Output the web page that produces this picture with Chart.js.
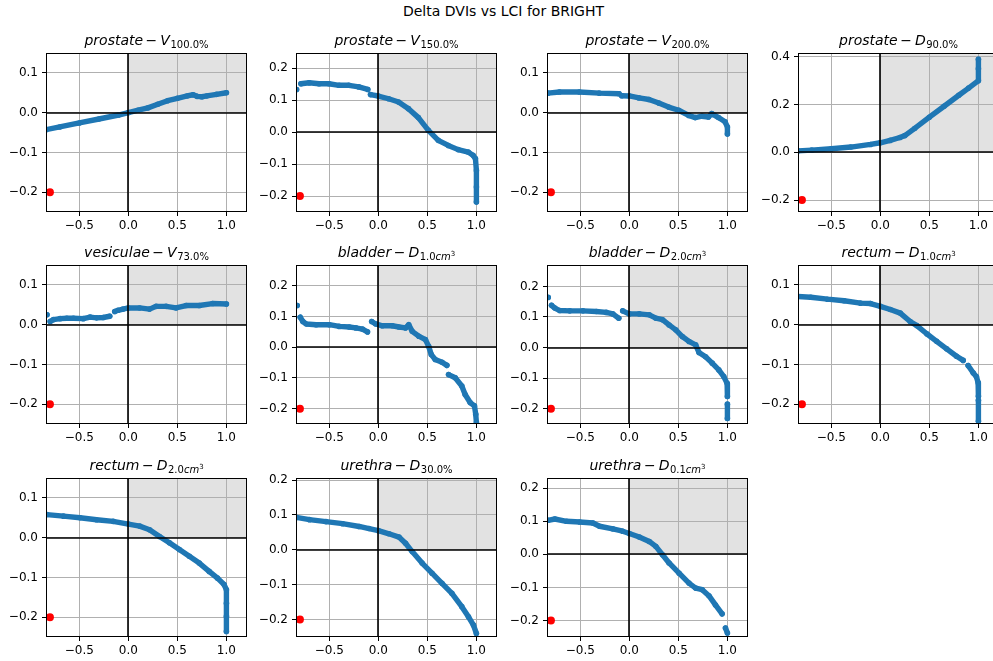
<!DOCTYPE html>
<html>
<head>
<meta charset="utf-8">
<title>Delta DVIs vs LCI for BRIGHT</title>
<script src="https://cdn.jsdelivr.net/npm/chart.js@4/dist/chart.umd.min.js"></script>
<style>
  body { margin: 0; width: 993px; height: 661px; overflow: hidden; background: #fff; position: relative; font-family: "DejaVu Sans", sans-serif; }
  #suptitle { position: absolute; left: 0; top: 3px; width: 1007px; text-align: center; font-size: 14px; line-height: 16px; color: #000; }
  canvas { position: absolute; }
</style>
</head>
<body>
<div id="suptitle">Delta DVIs vs LCI for BRIGHT</div>
<script>
// ---- data: delta DVI against LCI, one pair of arrays per subplot ----
// null entries split the band where the points break apart
const xProstateV100 = [-0.84, -0.7, -0.5, -0.3, -0.1, 0.0, 0.1, 0.2, 0.3, 0.4, 0.5, 0.6, 0.66, 0.7, 0.75, 0.8, 0.9, 1.0];
const yProstateV100 = [-0.043, -0.036, -0.026, -0.016, -0.006, 0.0, 0.006, 0.012, 0.021, 0.030, 0.036, 0.042, 0.045, 0.041, 0.040, 0.042, 0.046, 0.050];

const xProstateV150 = [-0.834, null, -0.79, -0.706, -0.605, -0.503, -0.402, -0.30, -0.2, -0.108, null, -0.08, 0.0, 0.105, 0.206, 0.307, 0.408, 0.51, 0.611, 0.713, 0.814, 0.916, 0.966, 0.99, 1.0, 1.0, 1.0];
const yProstateV150 = [0.133, null, 0.151, 0.154, 0.151, 0.151, 0.146, 0.146, 0.141, 0.133, null, 0.117, 0.1125, 0.104, 0.094, 0.073, 0.045, 0.005, -0.026, -0.042, -0.055, -0.0625, -0.073, -0.083, -0.12, -0.172, -0.219];

const xProstateV200 = [-0.83, -0.713, -0.51, -0.307, -0.105, null, -0.078, 0.0, 0.098, 0.2, 0.3, 0.4, 0.503, 0.605, 0.672, 0.74, 0.807, 0.84, 0.909, 0.976, 1.0, 1.0];
const yProstateV200 = [0.049, 0.052, 0.052, 0.049, 0.0475, null, 0.0425, 0.042, 0.037, 0.033, 0.024, 0.014, 0.006, -0.007, -0.0125, -0.009, -0.011, -0.0025, -0.0125, -0.023, -0.036, -0.054];

const xProstateD90 = [-0.84, -0.7, -0.5, -0.3, -0.1, 0.0, 0.1, 0.2, 0.25, 0.35, 0.5, 0.65, 0.8, 0.9, 1.0, 1.0, 1.0];
const yProstateD90 = [0.006, 0.009, 0.015, 0.022, 0.033, 0.040, 0.050, 0.062, 0.070, 0.100, 0.147, 0.193, 0.239, 0.269, 0.300, 0.350, 0.390];

const xVesiculaeV73 = [-0.83, null, -0.797, -0.764, -0.696, -0.628, -0.56, -0.46, -0.39, -0.324, -0.257, -0.19, null, -0.139, -0.105, -0.054, 0.0, 0.115, 0.216, 0.284, 0.385, 0.486, 0.588, 0.723, 0.858, 1.0];
const yVesiculaeV73 = [0.025, null, 0.008, 0.0125, 0.015, 0.016, 0.016, 0.015, 0.019, 0.017, 0.018, 0.021, null, 0.033, 0.036, 0.039, 0.042, 0.042, 0.039, 0.046, 0.046, 0.042, 0.048, 0.048, 0.053, 0.052];

const xBladderD1 = [-0.828, null, -0.797, -0.77, -0.736, -0.635, -0.5, -0.399, -0.297, -0.23, -0.162, -0.111, null, -0.068, -0.027, 0.04, 0.142, 0.21, 0.277, 0.31, 0.345, 0.412, 0.48, 0.513, 0.54, 0.58, 0.649, 0.699, null, 0.716, 0.784, 0.851, 0.885, 0.936, 0.98, 0.993, 1.0];
const yBladderD1 = [0.136, null, 0.098, 0.084, 0.076, 0.0735, 0.0735, 0.068, 0.066, 0.063, 0.059, 0.050, null, 0.084, 0.076, 0.070, 0.070, 0.066, 0.063, 0.0735, 0.052, 0.036, 0.025, 0.003, -0.024, -0.040, -0.0487, -0.059, null, -0.089, -0.0995, -0.126, -0.154, -0.180, -0.191, -0.218, -0.245];

const xBladderD2 = [-0.828, null, -0.794, -0.76, -0.71, -0.608, -0.473, -0.338, -0.236, -0.169, -0.108, null, -0.068, 0.0, 0.101, 0.203, 0.27, 0.338, 0.405, 0.473, 0.54, 0.608, 0.676, 0.71, 0.777, 0.845, 0.912, 0.963, 0.997, 1.0, null, 1.0, 1.0];
const yBladderD2 = [0.164, null, 0.138, 0.129, 0.121, 0.120, 0.120, 0.118, 0.115, 0.110, 0.096, null, 0.120, 0.110, 0.110, 0.107, 0.096, 0.091, 0.074, 0.058, 0.036, 0.020, 0.009, -0.016, -0.030, -0.051, -0.073, -0.095, -0.117, -0.160, null, -0.185, -0.232];

const xRectumD1 = [-0.845, -0.71, -0.54, -0.37, -0.203, -0.1, 0.0, 0.101, 0.203, 0.304, 0.372, 0.473, 0.574, 0.676, 0.777, 0.845, null, 0.895, 0.946, 0.98, 0.997, 1.0, null, 1.0, 1.0];
const yRectumD1 = [0.071, 0.069, 0.064, 0.060, 0.054, 0.053, 0.046, 0.038, 0.029, 0.008, -0.0025, -0.023, -0.042, -0.061, -0.0795, -0.090, null, -0.103, -0.121, -0.131, -0.146, -0.180, null, -0.190, -0.243];

const xRectumD2 = [-0.83, -0.662, -0.493, -0.324, -0.155, 0.0, 0.115, 0.216, 0.318, 0.419, 0.52, 0.622, 0.723, 0.824, 0.909, 0.976, 1.0, 1.0, 1.0, 1.0];
const yRectumD2 = [0.058, 0.054, 0.050, 0.045, 0.041, 0.034, 0.029, 0.020, 0.003, -0.013, -0.030, -0.047, -0.064, -0.085, -0.102, -0.118, -0.131, -0.165, -0.198, -0.236];

const xUrethraD30 = [-0.838, -0.703, -0.534, -0.365, -0.196, -0.095, 0.0, 0.108, 0.21, 0.277, 0.345, 0.446, 0.547, 0.649, 0.75, 0.851, 0.919, 0.97, 1.0];
const yUrethraD30 = [0.093, 0.0865, 0.081, 0.075, 0.067, 0.061, 0.055, 0.046, 0.0365, 0.019, -0.005, -0.038, -0.067, -0.096, -0.125, -0.163, -0.192, -0.216, -0.240];

const xUrethraD01 = [-0.828, -0.76, -0.642, -0.507, -0.372, -0.304, -0.169, -0.068, 0.0, 0.101, 0.203, 0.27, 0.338, 0.405, 0.507, 0.608, 0.676, 0.743, 0.811, 0.878, 0.946, null, 0.98, 1.0];
const yUrethraD01 = [0.103, 0.107, 0.100, 0.098, 0.095, 0.085, 0.077, 0.070, 0.063, 0.0525, 0.039, 0.024, -0.001, -0.026, -0.057, -0.087, -0.102, -0.107, -0.125, -0.153, -0.180, null, -0.223, -0.238];

// subplot titles: organ - metric_{level}
const organs  = ['prostate', 'prostate', 'prostate', 'prostate', 'vesiculae', 'bladder', 'bladder', 'rectum', 'rectum', 'urethra', 'urethra'];
const metrics = ['V', 'V', 'V', 'D', 'V', 'D', 'D', 'D', 'D', 'D', 'D'];
const levels  = ['100.0%', '150.0%', '200.0%', '90.0%', '73.0%', '1.0cm3', '2.0cm3', '1.0cm3', '2.0cm3', '30.0%', '0.1cm3'];

// axis limits and ticks
const lciRange = [-0.84, 1.21];
const lciTicks = [-0.5, 0.0, 0.5, 1.0];
const dviMin = -0.25;
const dviMax = [0.15, 0.247, 0.15, 0.416, 0.15, 0.268, 0.27, 0.15, 0.15, 0.206, 0.231];
const dviTicks = [
  [-0.2, -0.1, 0.0, 0.1],
  [-0.2, -0.1, 0.0, 0.1, 0.2],
  [-0.2, -0.1, 0.0, 0.1],
  [-0.2, 0.0, 0.2, 0.4],
  [-0.2, -0.1, 0.0, 0.1],
  [-0.2, -0.1, 0.0, 0.1, 0.2],
  [-0.2, -0.1, 0.0, 0.1, 0.2],
  [-0.2, -0.1, 0.0, 0.1],
  [-0.2, -0.1, 0.0, 0.1],
  [-0.2, -0.1, 0.0, 0.1, 0.2],
  [-0.2, -0.1, 0.0, 0.1, 0.2]
];
// red reference marker
const refX = [-0.8];
const refY = [-0.2];

const seriesX = [xProstateV100, xProstateV150, xProstateV200, xProstateD90, xVesiculaeV73, xBladderD1, xBladderD2, xRectumD1, xRectumD2, xUrethraD30, xUrethraD01];
const seriesY = [yProstateV100, yProstateV150, yProstateV200, yProstateD90, yVesiculaeV73, yBladderD1, yBladderD2, yRectumD1, yRectumD2, yUrethraD30, yUrethraD01];

// ---- layout ----
const AX_LEFT = [46, 296, 547, 798];
const AX_TOP = [53, 265, 478];
const AX_W = 203, AX_H = 159;
const PAD_L = 50, PAD_T = 30, PAD_R = 2, PAD_B = 26;
const BLUE = '#1f77b4';
const FONT = '"DejaVu Sans", sans-serif';

Chart.defaults.font.family = FONT;

function fmtTick(v) {
  const s = Math.abs(v).toFixed(1);
  return v < -1e-9 ? '\u2212' + s : s;
}

// pieces of a mathtext-like title: italic names, upright numbers, smaller sub/superscripts
function titleRuns(organ, metric, level) {
  const runs = [
    { t: organ, it: true, size: 14, dy: 0 },
    { t: '\u2212', it: false, size: 14, dy: 0, gap: 2.5 },
    { t: metric, it: true, size: 14, dy: 0, gap: 0.5 }
  ];
  if (level.endsWith('cm3')) {
    runs.push({ t: level.slice(0, -3), it: false, size: 10, dy: 3 });
    runs.push({ t: 'cm', it: true, size: 10, dy: 3 });
    runs.push({ t: '3', it: false, size: 7, dy: -1.5 });
  } else {
    runs.push({ t: level, it: false, size: 10, dy: 3 });
  }
  return runs;
}

const axesDecor = {
  id: 'axesDecor',
  beforeDraw(chart) {
    // shaded quadrant: LCI > 0 and delta > 0
    const { ctx, chartArea: a, scales } = chart;
    const x0 = scales.x.getPixelForValue(0);
    const y0 = scales.y.getPixelForValue(0);
    ctx.save();
    ctx.fillStyle = '#e2e2e2';
    ctx.fillRect(x0, a.top, a.right - x0, y0 - a.top);
    ctx.restore();
  },
  afterDatasetsDraw(chart) {
    const { ctx, chartArea: a, scales } = chart;
    const x0 = Math.round(scales.x.getPixelForValue(0));
    const y0 = Math.round(scales.y.getPixelForValue(0));
    ctx.save();
    ctx.strokeStyle = '#000';
    ctx.lineWidth = 1.6;
    ctx.beginPath();
    ctx.moveTo(a.left, y0); ctx.lineTo(a.right, y0);
    ctx.moveTo(x0, a.top); ctx.lineTo(x0, a.bottom);
    ctx.stroke();
    // axes frame
    ctx.lineWidth = 1;
    ctx.strokeRect(Math.round(a.left) + 0.5, Math.round(a.top) + 0.5, Math.round(a.right - a.left) - 1, Math.round(a.bottom - a.top) - 1);
    ctx.restore();
  },
  afterDraw(chart, args, opts) {
    const { ctx, chartArea: a } = chart;
    const runs = titleRuns(opts.organ, opts.metric, opts.level);
    const fontOf = r => (r.it ? 'italic ' : '') + r.size + 'px ' + FONT;
    ctx.save();
    ctx.fillStyle = '#000';
    ctx.textBaseline = 'alphabetic';
    ctx.textAlign = 'left';
    const widths = runs.map(r => { ctx.font = fontOf(r); return ctx.measureText(r.t).width + 2 * (r.gap || 0); });
    const total = widths.reduce((s, w) => s + w, 0);
    let xp = (a.left + a.right) / 2 - total / 2;
    const base = a.top - 8;
    runs.forEach((r, i) => {
      ctx.font = fontOf(r);
      ctx.fillText(r.t, xp + (r.gap || 0), base + r.dy);
      xp += widths[i];
    });
    ctx.restore();
  }
};

function makePanel(i) {
  const col = i % 4, row = Math.floor(i / 4);
  const canvas = document.createElement('canvas');
  const w = PAD_L + AX_W + PAD_R, h = PAD_T + AX_H + PAD_B;
  canvas.width = w; canvas.height = h;
  canvas.style.width = w + 'px'; canvas.style.height = h + 'px';
  canvas.style.left = (AX_LEFT[col] - PAD_L) + 'px';
  canvas.style.top = (AX_TOP[row] - PAD_T) + 'px';
  document.body.appendChild(canvas);

  const pts = seriesX[i].map((x, k) => ({ x: x, y: seriesY[i][k] }));
  const ref = refX.map((x, k) => ({ x: x, y: refY[k] }));
  const yTicks = dviTicks[i];

  new Chart(canvas.getContext('2d'), {
    type: 'scatter',
    data: {
      datasets: [
        { data: ref, backgroundColor: '#ff0000', pointRadius: 4, pointBorderWidth: 0, showLine: false, clip: 0 },
        { data: pts, showLine: true, spanGaps: false, borderColor: BLUE, backgroundColor: BLUE, borderWidth: 5.4,
          borderCapStyle: 'round', borderJoinStyle: 'round', pointRadius: 2.8, pointBorderWidth: 0, clip: 0 }
      ]
    },
    options: {
      responsive: false,
      animation: false,
      events: [],
      layout: { padding: { top: PAD_T, right: PAD_R, left: 0, bottom: 0 } },
      plugins: {
        legend: { display: false },
        tooltip: { enabled: false },
        axesDecor: { organ: organs[i], metric: metrics[i], level: levels[i] }
      },
      scales: {
        x: {
          type: 'linear', min: lciRange[0], max: lciRange[1],
          afterFit: s => { s.height = PAD_B; },
          afterBuildTicks: s => { s.ticks = lciTicks.map(v => ({ value: v })); },
          ticks: { callback: fmtTick, color: '#000', font: { size: 12 }, padding: 3, autoSkip: false, maxRotation: 0 },
          grid: { color: '#b0b0b0', lineWidth: 1, tickLength: 4, tickColor: '#000', tickWidth: 1 },
          border: { display: false }
        },
        y: {
          type: 'linear', min: dviMin, max: dviMax[i],
          afterFit: s => { s.width = PAD_L; },
          afterBuildTicks: s => { s.ticks = yTicks.map(v => ({ value: v })); },
          ticks: { callback: fmtTick, color: '#000', font: { size: 12 }, padding: 4, autoSkip: false },
          grid: { color: '#b0b0b0', lineWidth: 1, tickLength: 4, tickColor: '#000', tickWidth: 1 },
          border: { display: false }
        }
      }
    },
    plugins: [axesDecor]
  });
}

for (let i = 0; i < organs.length; i++) makePanel(i);
</script>
</body>
</html>
